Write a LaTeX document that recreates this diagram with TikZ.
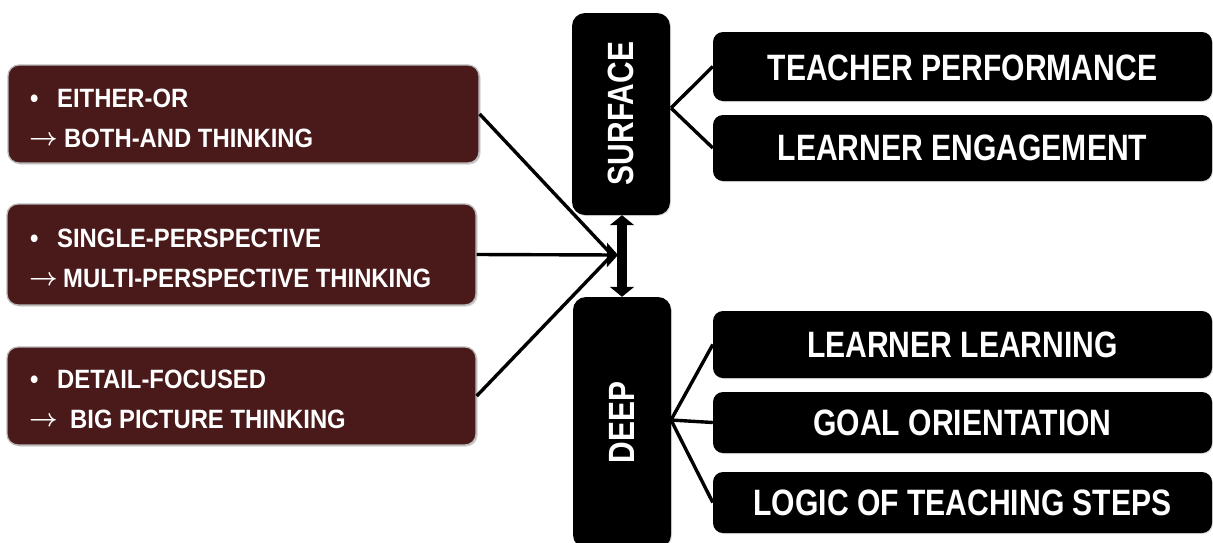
\documentclass[tikz,border=0pt]{standalone}
\usepackage{fontspec}
\newfontfamily\condL[FakeStretch=0.9]{Liberation Sans}
\newfontfamily\condR[FakeStretch=0.82]{Liberation Sans}
\usetikzlibrary{arrows.meta,shadows}
\definecolor{maroonbox}{HTML}{4A1A1B}
\newcommand{\rarr}{\raisebox{2pt}{\fontsize{26}{30}\selectfont\boldmath$\rightarrow$}}
\tikzset{
  leftbox/.style={draw=gray!55, line width=1.3pt, fill=maroonbox, rounded corners=11pt,
    inner sep=0pt, drop shadow={shadow xshift=1.5pt, shadow yshift=-1.5pt, opacity=.35}},
  blackbox/.style={fill=black, rounded corners=10pt, inner sep=0pt,
    drop shadow={shadow xshift=1pt, shadow yshift=-1pt, opacity=.25}},
  lefttext/.style={anchor=base west, inner sep=0pt, text=white, font=\condL\bfseries\fontsize{26.5}{30}\selectfont},
  righttext/.style={inner sep=0pt, text=white, font=\condR\bfseries\fontsize{36.7}{40}\selectfont},
  verttext/.style={inner sep=0pt, text=white, rotate=90, font=\condR\bfseries\fontsize{36.5}{40}\selectfont},
  conn/.style={line width=3.4pt, black},
}
\begin{document}
\begin{tikzpicture}[x=1pt,y=-1pt]
\useasboundingbox (0,0) rectangle (1213,542);

% left boxes
\node[leftbox, minimum width=471pt, minimum height=98pt] (b1) at (243.5,114) {};
\node[leftbox, minimum width=469pt, minimum height=101pt] (b2) at (241.5,254.5) {};
\node[leftbox, minimum width=469pt, minimum height=98pt] (b3) at (241.5,396) {};

\node[lefttext] (t1a) at (30,107) {\makebox[27pt][l]{•}EITHER-OR};
\node[lefttext] (t1b) at (29,147) {\makebox[35pt][l]{\rarr}BOTH-AND THINKING};
\node[lefttext] (t2a) at (30,247) {\makebox[27pt][l]{•}SINGLE-PERSPECTIVE};
\node[lefttext] (t2b) at (29,287) {\makebox[34pt][l]{\rarr}MULTI-PERSPECTIVE THINKING};
\node[lefttext] (t3a) at (30,388) {\makebox[27pt][l]{•}DETAIL-FOCUSED};
\node[lefttext] (t3b) at (29,428) {\makebox[41pt][l]{\rarr}BIG PICTURE THINKING};

% vertical boxes
\node[blackbox, rounded corners=13pt, minimum width=98pt, minimum height=202pt] (surf) at (621,114) {};
\node[verttext] (surft) at (621,113.5) {SURFACE};
\node[blackbox, rounded corners=13pt, minimum width=98pt, minimum height=251pt] (deep) at (622,422.5) {};
\node[verttext] (deept) at (622,422.5) {DEEP};

% right boxes
\node[blackbox, minimum width=499pt, minimum height=69pt] (r1) at (962.5,66.5) {};
\node[righttext] (r1t) at (962.5,67.5) {TEACHER PERFORMANCE};
\node[blackbox, minimum width=499pt, minimum height=66pt] (r2) at (962.5,148) {};
\node[righttext] (r2t) at (962.5,148) {LEARNER ENGAGEMENT};
\node[blackbox, minimum width=499pt, minimum height=67pt] (r3) at (962.5,344.5) {};
\node[righttext] (r3t) at (962.5,344.5) {LEARNER LEARNING};
\node[blackbox, minimum width=499pt, minimum height=61pt] (r4) at (962.5,422.5) {};
\node[righttext] (r4t) at (962.5,422.5) {GOAL ORIENTATION};
\node[blackbox, minimum width=499pt, minimum height=61pt] (r5) at (962.5,502.5) {};
\node[righttext] (r5t) at (962.5,502.5) {LOGIC OF TEACHING STEPS};

% connectors
\coordinate (cv) at (612,255);
\coordinate (tip) at (618,255);
\coordinate (sj) at (671,108);
\coordinate (dj) at (671,420);
\draw[conn] (b1.east) -- (cv);
\draw[conn] (b3.east) -- (cv);
\draw[conn, -{Triangle[length=11pt,width=24pt]}] (b2.east) -- (tip);

\draw[line width=10pt, {Triangle[length=10pt,width=24pt]}-{Triangle[length=10pt,width=24pt]}]
  (surf.south -| 622,0) -- (deep.north);

\draw[conn] (sj) -- (r1.west);
\draw[conn] (sj) -- (r2.west);
\draw[conn] (dj) -- (r3.west);
\draw[conn] (dj) -- (r4.west);
\draw[conn] (dj) -- (r5.west);
\end{tikzpicture}
\end{document}
